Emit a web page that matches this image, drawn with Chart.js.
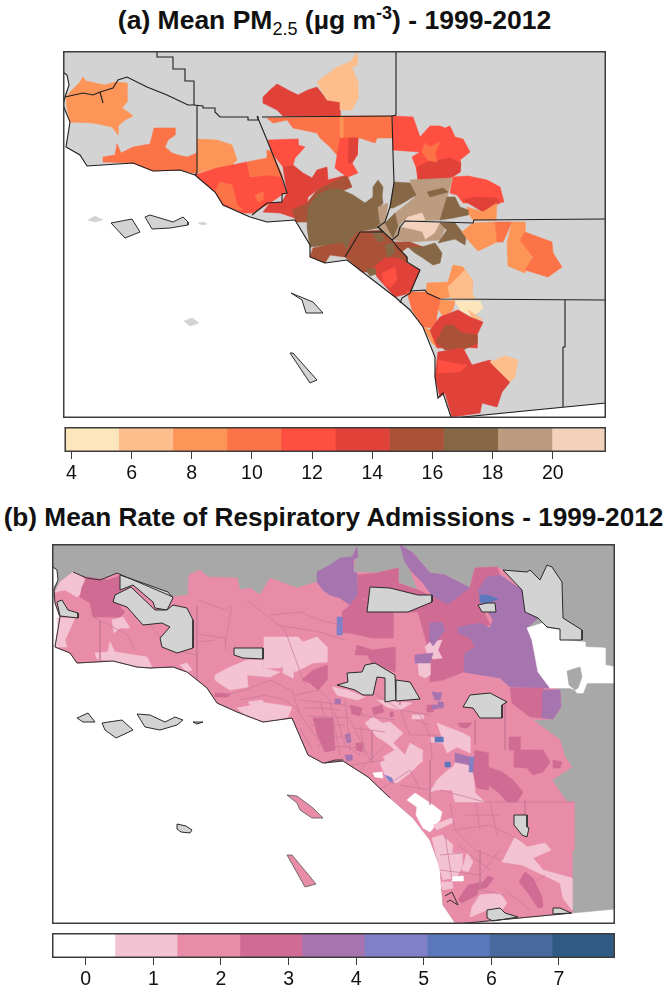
<!DOCTYPE html>
<html>
<head>
<meta charset="utf-8">
<title>Mean PM2.5 and respiratory admissions</title>
<script src="https://cdn.jsdelivr.net/npm/chart.js@4"></script>
<style>
body { margin: 0; background: #fff; overflow: hidden; font-family: "Liberation Sans", Arial, sans-serif; }
canvas { position: absolute; }
.title { position: absolute; left: 1px; width: 667px; text-align: center; font-weight: bold; font-size: 26.5px; color: #111; white-space: nowrap; }
.title sub, .title sup { font-weight: normal; font-size: 68%; line-height: 0; }
.title sup { font-weight: bold; }
</style>
</head>
<body>
<div class="title" style="top:5px">(a) Mean PM<sub>2.5</sub> (µg m<sup>-3</sup>) - 1999-2012</div>
<div class="title" style="top:502px;font-size:26.2px;left:0">(b) Mean Rate of Respiratory Admissions - 1999-2012</div>
<canvas id="mapA" width="543" height="367" style="left:63px;top:51px"></canvas>
<canvas id="barA" width="543" height="58" style="left:63px;top:427px"></canvas>
<canvas id="mapB" width="563" height="380" style="left:52px;top:544px"></canvas>
<canvas id="barB" width="563" height="55" style="left:52px;top:933px"></canvas>
<script>
// colour bars
const pmEdges = [3.77, 5.57, 7.37, 9.17, 10.97, 12.77, 14.57, 16.37, 18.17, 19.97, 21.77];
const pmColors = ['#fde6bb', '#fdbe8b', '#fd9559', '#fd7348', '#fe4f40', '#e0423a', '#a95238', '#866846', '#bb9c80', '#f2d1bd'];
const pmTicks = [4, 6, 8, 10, 12, 14, 16, 18, 20];
const rateEdges = [-0.5, 0.43, 1.35, 2.28, 3.2, 4.12, 5.05, 5.97, 6.9, 7.83];
const rateColors = ['#ffffff', '#f3c3d4', '#e88ca8', '#d06b94', '#a674ae', '#7f80c8', '#5c78bc', '#48699e', '#2e5a84'];
const rateTicks = [0, 1, 2, 3, 4, 5, 6, 7];

const GREY = '#d3d3d3';
const DARK = '#a8a8a8';

// panel (a): [class, outline] painted in order, classes index pmColors
const pmLand = [63,51, 606,51, 606,403, 453,418, 451,417, 443,393, 438,398, 435,377, 435,357, 423,327, 410,310, 395,297, 347,260, 325,263, 310,257, 310,245, 295,220, 267,222, 250,217, 223,205, 215,192, 195,175, 180,170, 153,171, 133,163, 87,166, 80,155, 66,147, 70,122, 63,105, 65,97, 69,85, 67,75, 63,72];
const pmIslandsPale = [
  [88,220, 95,216, 103,220, 95,222],
  [198,223, 203,222, 207,224, 202,225],
  [184,321, 192,318, 199,323, 190,326],
];
const pmRegions = [
  [2, [66,97, 72,90, 80,82, 83,77, 86,81, 95,83, 105,85, 115,82, 127,83, 127,102, 122,108, 128,112, 133,116, 125,120, 118,126, 118,135, 112,127, 93,123, 70,122, 67,108]],
  [3, [103,157, 115,155, 117,144, 121,153, 133,147, 150,144, 152,136, 154,128, 175,128, 175,135, 168,140, 165,147, 172,153, 178,155, 187,157, 197,153, 197,173, 193,173, 180,170, 153,171, 133,163, 103,162]],
  [2, [197,139, 217,140, 232,145, 237,160, 232,165, 217,168, 197,173]],
  [4, [195,175, 217,168, 247,162, 250,177, 267,175, 280,173, 286,192, 270,203, 253,213, 243,213, 223,205, 215,192]],
  [3, [247,162, 267,158, 267,150, 272,152, 283,177, 267,175, 250,177]],
  [3, [220,182, 232,185, 237,205, 243,210, 237,210, 223,203, 215,192]],
  [3, [255,195, 263,192, 263,200, 258,202]],
  [4, [268,140, 298,139, 298,145, 305,147, 295,158, 293,165, 283,167, 272,153]],
  [5, [283,167, 293,165, 303,173, 312,178, 317,170, 327,167, 328,180, 347,175, 317,190, 308,197, 307,207, 292,210, 295,218, 280,213, 263,212, 270,203, 282,202, 287,193]],
  [6, [292,210, 307,203, 317,190, 347,175, 352,187, 320,200, 312,222, 296,222]],
  [5, [263,97, 270,90, 277,84, 288,90, 298,95, 308,90, 317,87, 327,100, 340,102, 340,117, 283,116, 277,110, 263,103]],
  [1, [317,82, 337,67, 350,62, 357,53, 357,65, 352,68, 357,80, 358,98, 352,110, 340,110, 340,102, 327,100]],
  [3, [267,118, 273,123, 287,120, 293,128, 317,133, 320,138, 330,147, 343,162, 340,117]],
  [3, [340,116, 392,116, 392,138, 377,138, 375,143, 360,138, 340,138]],
  [2, [340,117, 343,117, 343,138, 340,138]],
  [4, [340,138, 358,138, 357,155, 352,163, 358,173, 348,177, 340,172, 335,168]],
  [5, [349,138, 358,138, 357,155, 352,163, 348,163]],
  [7, [308,207, 317,195, 330,189, 340,189, 353,195, 365,203, 373,197, 373,187, 378,180, 383,187, 382,197, 383,203, 378,210, 382,223, 378,228, 358,232, 350,240, 345,257, 343,243, 327,245, 310,247, 307,227]],
  [6, [313,248, 327,245, 343,243, 348,253, 345,257, 330,255, 325,263, 310,257]],
  [6, [358,232, 380,230, 392,240, 398,247, 407,257, 407,262, 395,270, 375,272, 362,272, 345,257, 350,240]],
  [7, [372,232, 380,232, 385,240, 378,242]],
  [7, [385,245, 393,243, 395,252, 388,258]],
  [5, [373,268, 385,258, 397,258, 407,263, 420,270, 410,293, 395,297, 377,277]],
  [7, [366,270, 375,268, 376,274, 370,276]],
  [4, [382,273, 395,267, 397,280, 390,288, 383,283]],
  [4, [393,116, 413,117, 420,137, 430,126, 440,126, 445,128, 450,126, 455,137, 463,139, 470,152, 460,160, 460,172, 452,177, 433,183, 418,180, 416,167, 412,157, 420,152, 393,150]],
  [5, [417,167, 428,162, 450,158, 461,163, 460,172, 452,177, 433,183, 418,180]],
  [3, [422,152, 425,143, 430,147, 440,142, 435,153, 437,162, 428,160]],
  [4, [450,193, 453,177, 468,176, 487,180, 500,187, 504,202, 497,203, 487,210, 470,203, 463,203, 457,195]],
  [5, [463,200, 475,197, 497,198, 500,203, 483,212, 468,203]],
  [2, [467,207, 483,212, 497,203, 496,220, 473,220, 468,213]],
  [8, [410,180, 452,178, 450,187, 447,197, 440,220, 403,221, 398,227, 395,213, 403,207, 415,197]],
  [7, [394,182, 410,183, 416,195, 403,203, 393,208, 390,208]],
  [7, [447,197, 455,197, 460,207, 468,210, 468,215, 453,218, 440,220]],
  [7, [427,192, 443,188, 448,192, 430,197]],
  [8, [378,207, 388,203, 385,223, 380,223]],
  [8, [378,225, 385,222, 393,233, 392,240]],
  [7, [385,223, 395,213, 398,227, 393,238]],
  [9, [408,217, 422,213, 425,220, 405,221]],
  [9, [403,222, 440,223, 435,233, 425,240, 422,232, 405,228]],
  [8, [398,227, 405,228, 422,232, 425,240, 435,233, 440,223, 447,224, 440,240, 410,242, 393,240]],
  [7, [440,223, 455,223, 466,237, 465,245, 455,239, 438,243, 447,230]],
  [7, [408,247, 422,247, 435,243, 442,253, 440,263, 433,265, 423,258, 415,253]],
  [6, [392,242, 410,242, 423,247, 408,247, 400,253]],
  [2, [462,232, 473,223, 495,222, 497,242, 478,251, 468,240]],
  [3, [495,222, 512,222, 503,242, 497,242]],
  [2, [512,222, 525,222, 525,232, 520,240, 533,253, 530,263, 525,273, 508,266, 507,243]],
  [3, [520,240, 525,232, 552,242, 553,253, 562,267, 548,277, 525,270, 533,257]],
  [2, [427,283, 448,282, 453,265, 463,267, 472,280, 472,288, 448,285, 450,297, 438,299, 426,292]],
  [1, [448,287, 465,270, 472,280, 472,293, 475,299, 453,299, 450,297]],
  [0, [455,301, 480,301, 483,308, 473,317, 460,310]],
  [2, [440,300, 455,301, 453,310, 443,317, 435,303]],
  [3, [407,292, 425,292, 440,300, 437,315, 435,328, 423,327, 412,310]],
  [2, [423,327, 430,330, 440,338, 437,347, 432,343]],
  [1, [468,310, 473,313, 483,320, 472,318]],
  [5, [430,330, 440,317, 458,310, 470,317, 483,322, 477,335, 477,348, 463,347, 437,348]],
  [6, [445,325, 453,325, 462,333, 477,335, 477,343, 463,350, 445,350, 436,342]],
  [5, [438,352, 463,348, 472,365, 490,360, 510,382, 502,392, 497,407, 482,403, 480,413, 452,417, 445,393, 440,397, 435,377]],
  [4, [438,360, 452,363, 467,365, 460,372, 438,373]],
  [1, [490,362, 505,356, 518,360, 515,377, 510,382]],
];
const pmIslands = [
  [111,223, 132,219, 140,232, 125,238],
  [145,217, 150,215, 173,222, 183,217, 188,222, 188,225, 170,228, 152,229, 148,222],
  [291,293, 313,302, 323,313, 306,313, 302,300],
  [290,353, 293,353, 317,380, 310,383],
];
const pmBorders = [
  [157,51, 157,57, 173,57, 173,69, 185,69, 185,81, 194,81, 194,105],
  [65,97, 83,93, 93,95, 100,92, 103,103, 100,92, 113,88, 118,80, 127,77, 147,87, 167,95, 188,105, 194,105],
  [194,105, 203,106, 203,108, 215,108, 215,112, 220,117, 248,117, 248,120, 258,120, 258,116],
  [197,106, 197,173, 195,175],
  [257,116, 267,140, 283,180, 287,193, 282,194, 282,202, 267,203, 252,215],
  [262,117, 392,116],
  [396,51, 396,115, 392,116],
  [392,116, 393,153, 394,183, 390,207, 385,222, 378,227, 392,240],
  [378,227, 383,232, 360,232, 345,257],
  [392,240, 398,248, 407,257, 407,262, 420,270, 410,293, 402,298, 400,303],
  [392,240, 398,235, 400,227, 405,221, 440,222, 473,223, 474,220, 606,219],
  [410,291, 425,290, 427,293, 440,299, 606,300],
  [565,300, 565,347, 563,347, 563,407],
  [63,72, 67,75, 69,85, 65,97, 63,105, 70,122, 66,147, 80,155, 87,166, 133,163, 153,171, 180,170, 195,175, 215,192, 223,205, 250,217, 267,222, 295,220],
  [295,220, 310,245, 310,257, 325,263, 347,260, 395,297, 410,310, 423,327, 435,357, 435,377, 438,398, 443,393, 451,417],
  [453,418, 606,403],
];

// panel (b): classes index rateColors
const rateOcean = [52,544, 615,544, 615,909, 456,924, 443,905, 442,893, 440,867, 430,840, 413,818, 390,798, 368,777, 343,761, 323,763, 308,755, 292,718, 263,722, 237,712, 217,703, 207,688, 187,672, 173,667, 150,668, 137,667, 113,661, 77,663, 70,653, 55,647, 60,617, 55,603, 52,590, 58,580, 57,570, 52,567];
const rateState = [55,592, 60,582, 73,572, 87,578, 100,580, 117,573, 173,597, 188,595, 189,575, 200,570, 208,577, 237,578, 240,590, 250,588, 260,595, 270,578, 297,588, 317,582, 330,565, 352,557, 357,547, 353,572, 377,573, 398,568, 398,583, 418,590, 400,545, 413,553, 430,573, 445,575, 470,588, 475,568, 497,567, 503,570, 522,590, 527,628, 538,672, 550,688, 560,690, 561,707, 553,719, 533,720, 560,740, 565,757, 572,767, 552,780, 567,802, 574,802, 574,850, 572,852, 572,913, 456,924, 443,905, 442,893, 440,867, 430,840, 413,818, 390,798, 368,777, 343,761, 323,763, 308,755, 292,718, 263,722, 237,712, 217,703, 207,688, 187,672, 173,667, 150,668, 137,667, 113,661, 77,663, 70,653, 55,647, 60,617, 55,603];
const rateRegions = [
  [4, [317,582, 317,572, 330,565, 340,558, 352,557, 357,547, 358,557, 353,560, 353,572, 357,573, 358,595, 350,605, 340,598, 330,595, 323,590]],
  [4, [400,545, 413,553, 430,573, 445,575, 470,588, 448,605, 433,597, 423,583, 412,572, 405,562]],
  [3, [358,575, 377,573, 398,568, 398,583, 418,590, 433,597, 448,605, 470,588, 475,568, 497,567, 500,575, 487,577, 478,590, 480,603, 490,625, 458,627, 458,633, 470,638, 475,647, 465,653, 463,672, 443,680, 430,682, 430,655, 418,612, 367,612, 367,600, 358,595]],
  [3, [342,612, 393,612, 393,638, 372,638, 350,633, 343,633]],
  [3, [358,595, 367,602, 367,612, 342,612, 350,605]],
  [4, [458,627, 480,623, 490,628, 493,620, 488,612, 480,603, 478,590, 487,577, 500,575, 522,590, 525,612, 538,618, 527,628, 532,640, 538,672, 550,688, 543,688, 510,687, 500,678, 463,672, 465,653, 475,647, 470,638, 458,633]],
  [3, [510,688, 543,688, 543,700, 542,718, 530,717, 512,703]],
  [4, [543,690, 560,690, 561,707, 553,719, 542,718]],
  [3, [357,645, 372,650, 395,647, 395,672, 383,667, 372,663, 367,655, 355,655]],
  [3, [443,657, 463,657, 463,672, 443,673]],
  [1, [418,663, 430,663, 430,675, 425,678, 419,675]],
  [1, [425,647, 430,642, 442,640, 438,650, 442,658, 433,659, 427,653]],
  [4, [430,623, 442,622, 445,630, 433,646, 429,640]],
  [4, [415,655, 433,653, 430,663, 415,663]],
  [5, [337,617, 342,617, 342,635, 337,635]],
  [6, [480,595, 487,595, 498,599, 487,603, 480,602]],
  [1, [55,592, 60,582, 73,572, 83,578, 88,587, 77,597, 65,590]],
  [3, [82,587, 87,577, 108,580, 120,576, 120,607, 125,612, 120,617, 93,617, 90,603, 80,597]],
  [1, [57,618, 75,618, 65,640, 67,647, 55,647, 58,630]],
  [1, [112,620, 123,617, 130,628, 120,628, 114,633]],
  [1, [95,653, 108,652, 110,642, 115,652, 147,657, 152,667, 137,667, 113,661, 97,659]],
  [1, [180,665, 187,663, 192,670, 187,672]],
  [1, [264,637, 298,637, 303,642, 317,637, 327,647, 327,662, 313,663, 295,672, 288,663, 280,668, 264,668]],
  [1, [215,675, 230,667, 247,660, 263,660, 263,668, 280,672, 270,677, 247,675, 248,687, 230,690, 222,685, 215,680]],
  [1, [237,708, 253,705, 260,702, 280,705, 292,707, 288,717, 267,722, 247,717]],
  [1, [248,702, 262,700, 265,705, 253,708]],
  [1, [283,663, 293,663, 293,678, 283,673]],
  [1, [332,687, 347,690, 365,697, 357,700, 337,695]],
  [1, [377,700, 397,702, 412,703, 400,710, 387,707]],
  [1, [412,715, 423,715, 423,719, 412,719]],
  [3, [302,680, 313,670, 327,665, 327,680, 318,690, 310,683]],
  [3, [215,693, 230,694, 228,697, 215,697]],
  [3, [313,718, 333,718, 335,750, 325,752, 318,737]],
  [3, [356,743, 363,743, 362,752, 356,750]],
  [3, [350,705, 362,708, 360,716, 352,714]],
  [3, [372,708, 382,705, 384,712, 374,715]],
  [3, [390,712, 393,712, 393,717, 390,717]],
  [3, [427,705, 433,705, 433,712, 427,712]],
  [3, [458,723, 472,723, 467,728, 460,727]],
  [4, [345,735, 350,733, 351,742, 347,743]],
  [4, [345,755, 352,755, 352,760, 347,761]],
  [4, [335,699, 340,699, 340,704, 335,704]],
  [4, [432,692, 442,693, 440,700, 435,700]],
  [4, [438,702, 443,702, 443,708, 438,708]],
  [4, [432,705, 437,705, 437,709, 432,709]],
  [1, [365,723, 373,717, 382,723, 390,722, 403,733, 393,743, 405,755, 410,743, 422,750, 422,762, 407,767, 403,773, 390,767, 383,757, 395,750, 387,743, 377,737]],
  [1, [430,737, 443,740, 437,723, 447,727, 463,733, 470,737, 470,753, 457,747, 447,753, 443,743, 430,742]],
  [1, [430,792, 437,780, 448,770, 453,767, 458,757, 473,770, 475,793, 485,802, 455,802, 452,790, 437,790]],
  [1, [380,763, 397,750, 405,755, 423,750, 420,763, 410,773, 397,783, 387,780]],
  [0, [373,773, 382,772, 383,778, 375,777]],
  [5, [385,775, 392,778, 393,783, 388,780]],
  [6, [435,737, 443,737, 443,742, 435,742]],
  [6, [445,762, 450,762, 450,767, 445,767]],
  [4, [455,753, 470,757, 470,765, 455,762]],
  [5, [470,757, 475,757, 475,772, 469,772]],
  [3, [475,750, 488,753, 488,790, 477,788, 473,772]],
  [3, [488,767, 502,772, 513,780, 523,792, 517,802, 507,802, 498,792, 488,785]],
  [3, [514,750, 543,750, 550,762, 543,772, 533,775, 527,768, 514,767]],
  [3, [553,760, 562,762, 560,768, 554,768]],
  [3, [509,737, 520,737, 520,750, 509,750]],
  [0, [407,800, 415,793, 433,805, 442,812, 440,820, 430,832, 423,828, 416,815, 417,807]],
  [1, [433,825, 452,818, 452,823, 437,830]],
  [1, [432,838, 442,835, 453,845, 452,853, 462,853, 462,867, 457,877, 443,880, 438,863]],
  [1, [467,853, 473,862, 468,872, 462,870]],
  [0, [452,877, 463,876, 463,881, 452,881]],
  [1, [440,882, 452,882, 453,888, 443,890]],
  [3, [468,885, 483,882, 488,876, 494,878, 487,887, 478,890, 477,895, 462,903, 458,900]],
  [1, [502,862, 515,837, 527,847, 545,843, 551,850, 533,858, 543,870, 572,878, 572,910, 563,898, 560,883, 543,875, 522,865]],
  [3, [525,872, 533,878, 542,897, 543,907, 538,908, 528,893, 519,882]],
  [1, [480,895, 500,893, 507,903, 500,913, 487,910, 480,913, 470,917, 472,907]],
];
// grey "no data" areas with a black edge
const rateNoData = [
  [503,570, 527,572, 530,570, 540,580, 547,565, 552,567, 562,582, 563,618, 582,630, 582,640, 560,640, 560,629, 547,627, 543,623, 538,618, 525,612, 522,590],
  [367,612, 370,587, 390,588, 418,595, 432,595, 432,602, 408,612],
  [478,605, 487,603, 495,603, 496,612, 482,612],
  [337,685, 348,682, 347,673, 362,672, 365,665, 375,663, 395,675, 396,700, 385,702, 385,678, 377,677, 373,695, 363,695, 355,690],
  [396,680, 410,682, 420,699, 396,701],
  [463,707, 470,695, 490,693, 507,702, 502,705, 502,718, 480,718, 473,708],
  [234,648, 263,648, 263,659, 243,658, 234,655],
  [120,575, 140,582, 168,592, 173,598, 167,610, 155,608, 153,602, 133,585, 120,590],
  [115,595, 131,587, 155,610, 167,610, 173,605, 187,608, 193,620, 193,648, 177,653, 162,647, 160,638, 170,627, 162,623, 143,625, 127,607, 113,602],
  [57,602, 62,600, 68,610, 78,613, 78,618, 60,616],
  [514,815, 527,815, 527,827, 529,828, 527,837, 522,835, 514,825],
  [487,910, 500,908, 505,913, 518,917, 493,921, 487,918],
  [553,908, 560,908, 571,913, 553,914],
  [77,718, 88,713, 95,722, 83,722],
  [102,723, 122,720, 133,730, 116,738, 105,730],
  [137,714, 150,715, 165,722, 175,717, 183,720, 177,725, 160,730, 145,727],
  [193,722, 203,722, 197,724],
  [177,824, 186,826, 192,830, 190,833, 181,832, 177,829],
];
const rateWhite = [527,628, 543,623, 547,628, 560,630, 562,640, 585,642, 585,647, 605,648, 605,665, 615,667, 615,683, 587,683, 583,693, 577,693, 575,690, 570,688, 550,688, 538,672, 532,640];
const rateInDark = [567,671, 580,667, 582,677, 578,688, 575,690, 569,685];
const rateIslands = [
  [287,795, 297,796, 313,808, 323,818, 312,818, 300,810, 297,803],
  [287,855, 292,855, 316,884, 305,887],
];
const rateTracts = [
  [197,606, 197,680], [197,634, 225,638, 226,650], [198,600, 225,610, 232,605, 225,645], [247,600, 285,630, 305,685],
  [270,615, 300,612, 320,620, 340,625], [277,625, 320,632, 345,640], [150,625, 172,650, 197,655], [100,620, 100,660],
  [93,617, 128,635, 135,650], [215,640, 197,642], [225,695, 245,690, 270,680, 290,690], [240,700, 265,695, 285,700],
  [292,690, 300,715, 318,740], [300,700, 345,705, 365,715], [320,700, 325,720], [335,712, 345,745, 360,755], [350,720, 370,760],
  [310,725, 345,725], [315,735, 350,738], [318,745, 360,748], [330,700, 340,755], [345,700, 350,750], [300,728, 312,750],
  [370,690, 400,710, 430,715], [400,710, 410,735, 440,735], [420,715, 430,735, 432,760], [430,760, 430,790], [400,785, 430,790, 430,805],
  [360,715, 395,720], [475,720, 475,745], [505,700, 505,750], [440,790, 485,802, 574,802], [450,803, 455,830, 475,850, 500,860],
  [455,830, 490,825, 520,840], [476,803, 480,830], [490,802, 497,835], [465,815, 500,815], [440,870, 480,875, 500,850],
  [480,850, 480,890, 505,895], [505,890, 530,910], [545,875, 530,885], [525,800, 525,815], [458,845, 490,870], [440,855, 462,853],
  [445,835, 452,880], [380,790, 410,770, 420,790],
  [305,708, 322,708, 340,710], [308,716, 350,718], [360,725, 365,755], [372,730, 372,762], [355,728, 385,732], [352,765, 385,760], [360,770, 385,745],
  [295,695, 320,690, 330,700], [285,700, 300,712], [400,685, 400,705], [415,720, 430,725],
];
const rateBorders = [
  [53,567, 57,570, 58,580, 54,590, 55,603, 60,617, 55,647, 70,653, 77,663, 113,661, 137,667, 150,668, 173,667, 187,672, 207,688, 217,703, 237,712, 263,722, 292,718, 308,755, 323,763, 343,761, 368,777, 390,798],
  [73,572, 87,578, 100,580, 117,573, 173,597],
  [456,924, 572,913],
  [445,896, 452,892, 458,905, 450,900, 447,902],
  [325,763, 335,760, 343,760],
];

function points(flat) {
  const pts = [];
  for (let i = 0; i < flat.length; i += 2) pts.push({ x: flat[i], y: flat[i + 1] });
  return pts;
}

// closed polygon drawn as a filled scatter line
function shape(flat, fill, edge, width) {
  return {
    data: points(flat.concat(flat.slice(0, 2))),
    showLine: true,
    fill: 'shape',
    backgroundColor: fill,
    borderColor: edge || fill,
    borderWidth: width === undefined ? 0.6 : width,
    pointRadius: 0,
    tension: 0
  };
}

function line(flat, colour, width) {
  return {
    data: points(flat),
    showLine: true,
    fill: false,
    borderColor: colour,
    borderWidth: width,
    pointRadius: 0,
    tension: 0
  };
}

const framePlugin = {
  id: 'frame',
  afterDraw(chart) {
    const a = chart.chartArea, c = chart.ctx;
    c.save();
    c.strokeStyle = '#3c3c3c';
    c.lineWidth = 1.5;
    c.strokeRect(a.left + 0.75, a.top + 0.75, a.right - a.left - 1.5, a.bottom - a.top - 1.5);
    c.restore();
  }
};

function drawMap(id, layers, box) {
  // first dataset is painted last, so flip the paint order
  new Chart(document.getElementById(id), {
    type: 'scatter',
    data: { datasets: layers.slice().reverse() },
    options: {
      responsive: false,
      animation: false,
      events: [],
      plugins: { legend: { display: false }, tooltip: { enabled: false } },
      scales: {
        x: { type: 'linear', display: false, min: box[0], max: box[1] },
        y: { type: 'linear', display: false, min: box[2], max: box[3], reverse: true }
      }
    },
    plugins: [framePlugin]
  });
}

function drawBar(id, edges, colours, ticks, axisHeight) {
  new Chart(document.getElementById(id), {
    type: 'bar',
    data: {
      labels: [''],
      datasets: colours.map((c, i) => ({
        data: [[edges[i], edges[i + 1]]],
        backgroundColor: c,
        borderWidth: 0,
        grouped: false,
        barPercentage: 1,
        categoryPercentage: 1
      }))
    },
    options: {
      indexAxis: 'y',
      responsive: false,
      animation: false,
      events: [],
      plugins: { legend: { display: false }, tooltip: { enabled: false } },
      scales: {
        x: {
          type: 'linear',
          min: edges[0],
          max: edges[edges.length - 1],
          afterBuildTicks: axis => { axis.ticks = ticks.map(v => ({ value: v })); },
          afterFit: axis => { axis.height = axisHeight; },
          border: { display: false },
          grid: { drawOnChartArea: false, drawTicks: true, tickLength: 7, tickColor: '#3c3c3c', tickWidth: 1 },
          ticks: { autoSkip: false, maxRotation: 0, padding: 3, color: '#111', font: { family: '"Liberation Sans"', size: 19.5 } }
        },
        y: { display: false }
      }
    },
    plugins: [framePlugin]
  });
}

const pmLayers = [shape(pmLand, GREY)];
pmIslandsPale.forEach(p => pmLayers.push(shape(p, GREY)));
pmRegions.forEach(r => pmLayers.push(shape(r[1], pmColors[r[0]])));
pmIslands.forEach(p => pmLayers.push(shape(p, GREY, '#2a2a2a', 1)));
pmBorders.forEach(p => pmLayers.push(line(p, '#1e1e1e', 1.1)));
drawMap('mapA', pmLayers, [63, 606, 51, 418]);
drawBar('barA', pmEdges, pmColors, pmTicks, 33);

const rateLayers = [shape(rateOcean, DARK), shape(rateState, rateColors[2])];
rateRegions.forEach(r => rateLayers.push(shape(r[1], rateColors[r[0]])));
rateTracts.forEach(p => rateLayers.push(line(p, '#c9799a', 0.7)));
rateLayers.push(shape(rateWhite, '#ffffff'));
rateLayers.push(shape(rateInDark, DARK));
rateNoData.forEach(p => rateLayers.push(shape(p, GREY, '#2a2a2a', 1)));
rateIslands.forEach(p => rateLayers.push(shape(p, rateColors[2], '#555555', 0.8)));
rateBorders.forEach(p => rateLayers.push(line(p, '#333333', 1)));
drawMap('mapB', rateLayers, [52, 615, 544, 924]);
drawBar('barB', rateEdges, rateColors, rateTicks, 30);
</script>
</body>
</html>
